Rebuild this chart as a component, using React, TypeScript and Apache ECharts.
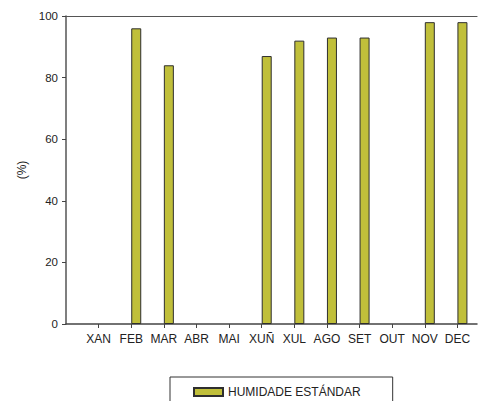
import React, { useEffect, useRef } from "react";
import * as echarts from "echarts";

const months = ["XAN", "FEB", "MAR", "ABR", "MAI", "XUÑ", "XUL", "AGO", "SET", "OUT", "NOV", "DEC"];
const humidity: (number | null)[] = [null, 96, 84, null, null, 87, 92, 93, 93, null, 98, 98];
const yTicks = [0, 20, 40, 60, 80, 100];
const seriesName = "HUMIDADE ESTÁNDAR";

export default function App() {
  const ref = useRef<HTMLDivElement>(null);
  useEffect(() => {
    if (!ref.current) return;
    document.body.style.margin = "0";
    document.body.style.overflow = "hidden";
    const chart = echarts.init(ref.current, undefined, { renderer: "svg" });
    const positions = months.map((_, i) => i + 1);
    const font = "'Liberation Sans', Arial, sans-serif";
    chart.setOption({
      animation: false,
      grid: { left: 66, right: 1, top: 16, bottom: 77, containLabel: false },
      legend: {
        data: [{ name: seriesName, icon: "rect" }],
        left: 170,
        top: 377,
        orient: "horizontal",
        borderColor: "#333",
        borderWidth: 1,
        padding: [9, 32, 20, 23],
        itemWidth: 29,
        itemHeight: 8,
        itemGap: 10,
        textStyle: { fontFamily: font, fontSize: 12, color: "#222" },
        selectedMode: false,
      },
      xAxis: [
        {
          type: "value",
          min: 0,
          max: 12.6,
          interval: 1,
          splitLine: { show: false },
          axisLine: { show: true, onZero: false, lineStyle: { color: "#444", width: 1.5 } },
          axisTick: { show: true, length: 4, customValues: positions, lineStyle: { color: "#444" } },
          axisLabel: {
            customValues: positions,
            margin: 9,
            fontFamily: font,
            fontSize: 12,
            color: "#222",
            formatter: (v: number) => months[Math.round(v) - 1] ?? "",
          },
        },
        {
          type: "value",
          position: "top",
          min: 0,
          max: 12.6,
          splitLine: { show: false },
          axisLine: { show: true, onZero: false, lineStyle: { color: "#555", width: 1.2 } },
          axisTick: { show: false },
          axisLabel: { show: false },
        },
      ],
      yAxis: {
        type: "value",
        min: 0,
        max: 100,
        interval: 20,
        name: "(%)",
        nameLocation: "middle",
        nameGap: 38,
        nameTextStyle: { fontFamily: font, fontSize: 12, color: "#222" },
        splitLine: { show: false },
        axisLine: { show: true, lineStyle: { color: "#555", width: 1.5 } },
        axisTick: { show: true, length: 4, lineStyle: { color: "#444" } },
        axisLabel: {
          margin: 8,
          fontFamily: font,
          fontSize: 11.5,
          color: "#222",
          customValues: yTicks,
        },
      },
      series: [
        {
          type: "bar",
          name: "_spacer",
          xAxisIndex: 0,
          barWidth: 10,
          barGap: "0%",
          data: positions.map((p) => [p, null]),
          itemStyle: { color: "transparent" },
        },
        {
          type: "bar",
          name: seriesName,
          xAxisIndex: 0,
          barWidth: 10,
          barGap: "0%",
          data: positions.map((p, i) => [p, humidity[i]]),
          itemStyle: { color: "#c0bf3a", borderColor: "#2e2e2e", borderWidth: 1 },
        },
      ],
    });
    return () => chart.dispose();
  }, []);
  return (
    <div
      ref={ref}
      style={{ position: "absolute", left: 0, top: 0, width: 478, height: 401, overflow: "hidden" }}
    />
  );
}
